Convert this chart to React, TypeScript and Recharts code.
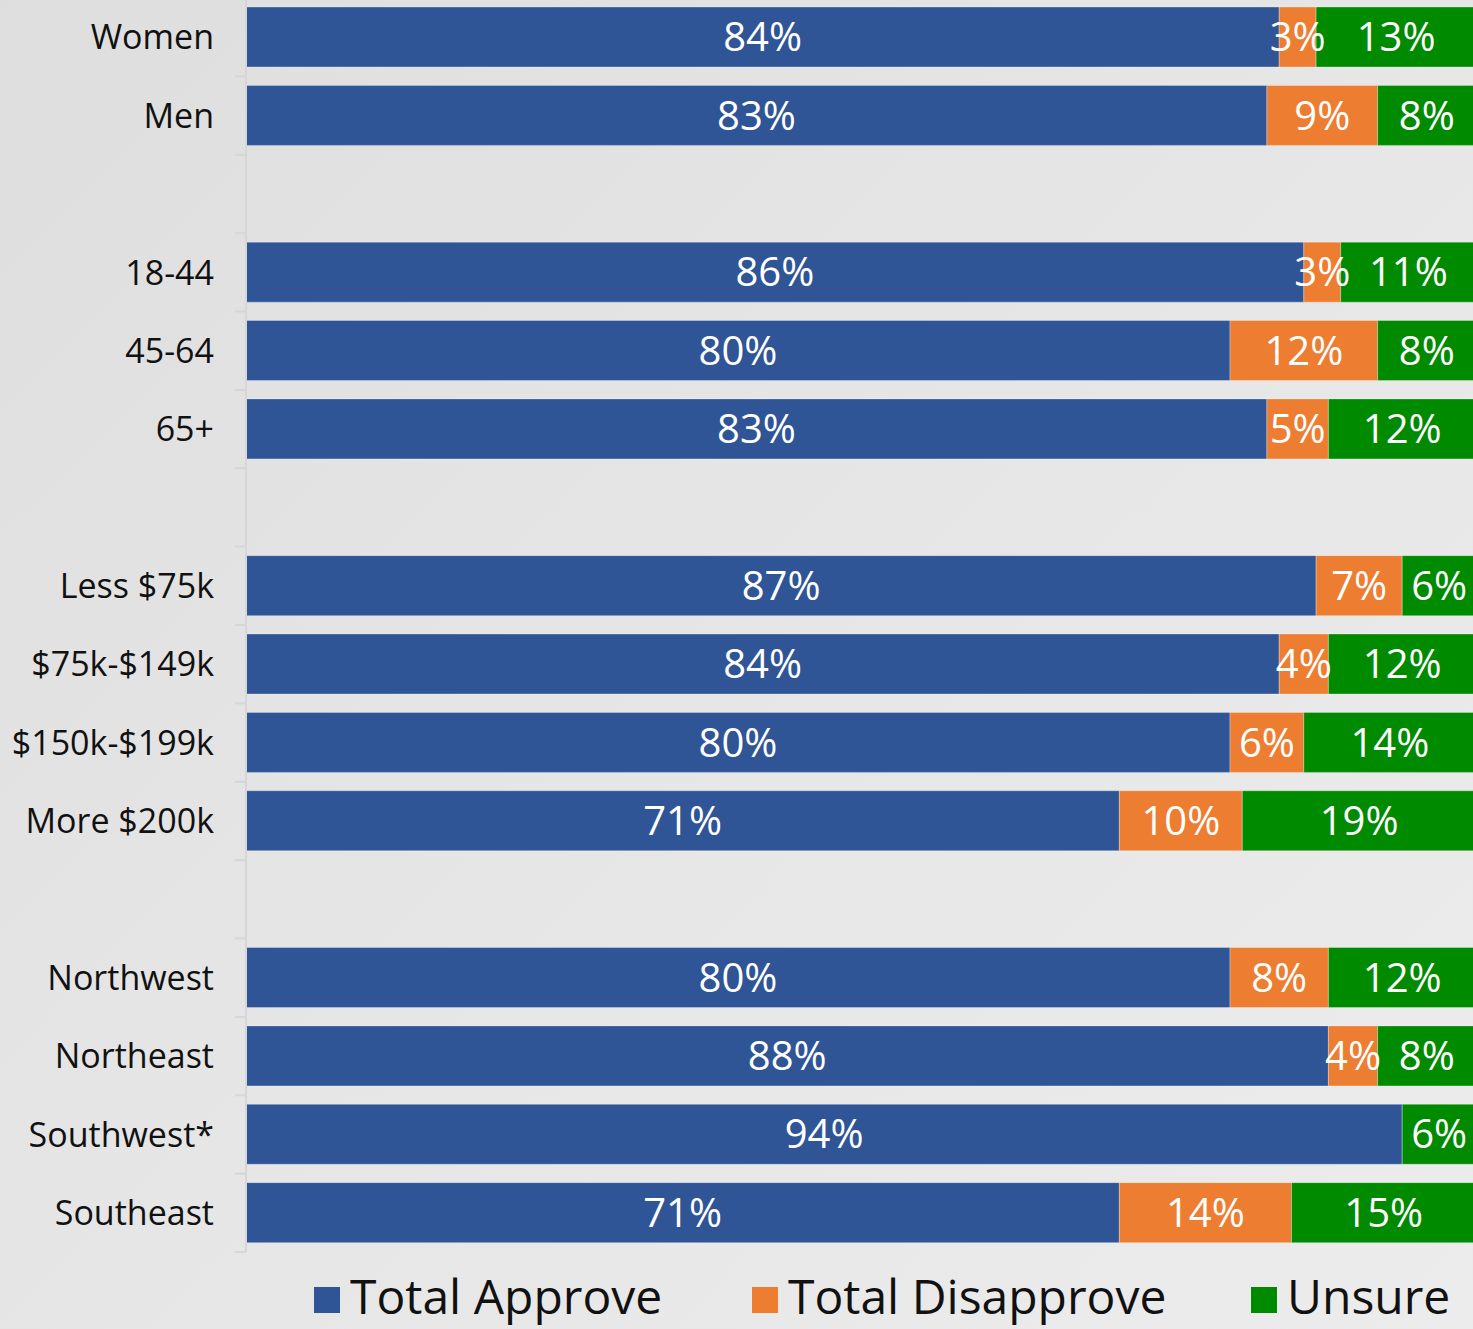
import React from 'react';
import { BarChart, Bar, XAxis, YAxis, Legend, LabelList } from 'recharts';

// rows, '' = spacer row between groups
const categories = [
  'Women', 'Men', '',
  '18-44', '45-64', '65+', '',
  'Less $75k', '$75k-$149k', '$150k-$199k', 'More $200k', '',
  'Northwest', 'Northeast', 'Southwest*', 'Southeast',
];
const approve = [84, 83, null, 86, 80, 83, null, 87, 84, 80, 71, null, 80, 88, 94, 71];
const disapprove = [3, 9, null, 3, 12, 5, null, 7, 4, 6, 10, null, 8, 4, 0, 14];
const unsure = [13, 8, null, 11, 8, 12, null, 6, 12, 14, 19, null, 12, 8, 6, 15];

const seriesNames = ['Total Approve', 'Total Disapprove', 'Unsure'];
const colors = ['#2f5597', '#ed7d31', '#008a00'];

const FONT = '"Open Sans", "DejaVu Sans", sans-serif';
const CHART_W = 1476;
const PLOT_H = 1254;
const LEGEND_H = 80;
const AXIS_X = 246;
const BAND = PLOT_H / categories.length;

const chartData = categories.map((c, i) => ({
  key: String(i),
  label: c,
  approve: approve[i],
  disapprove: disapprove[i],
  unsure: unsure[i],
}));

const CategoryTick = ({ y, index }: any) => (
  <g>
    <text
      x={AXIS_X - 32}
      y={y}
      dy="0.36em"
      textAnchor="end"
      fill="#111"
      fontSize={34}
      fontFamily={FONT}
    >
      {categories[index]}
    </text>
    <line x1={AXIS_X - 11} x2={AXIS_X} y1={y + BAND / 2} y2={y + BAND / 2} stroke="#d6d6d6" strokeWidth={2} />
  </g>
);

const legendLeft = [314, 752, 1251];

const LegendContent = () => (
  <div style={{ position: 'relative', width: CHART_W, height: LEGEND_H }}>
    {seriesNames.map((n, i) => (
      <div key={n} style={{ position: 'absolute', left: legendLeft[i], top: 20, display: 'flex', alignItems: 'flex-start' }}>
        <div style={{ width: 26, height: 26, background: colors[i], marginTop: 15, marginRight: 10 }} />
        <span style={{ fontFamily: FONT, fontSize: 48, lineHeight: '48px', color: '#111', whiteSpace: 'nowrap' }}>{n}</span>
      </div>
    ))}
  </div>
);

const fmt = (v: any) => (v ? `${v}%` : '');

export default function App() {
  const keys = ['approve', 'disapprove', 'unsure'];
  return (
    <div
      style={{
        position: 'absolute',
        top: 0,
        left: 0,
        width: 1473,
        height: 1329,
        overflow: 'hidden',
        background: 'linear-gradient(135deg, #dedede 0%, #e6e6e6 50%, #ececec 100%)',
      }}
    >
      <div style={{ marginTop: -2 }}>
        <BarChart
          width={CHART_W}
          height={PLOT_H + LEGEND_H}
          data={chartData}
          layout="vertical"
          margin={{ top: 0, right: 0, left: 0, bottom: 0 }}
          barSize={60}
        >
          <XAxis type="number" domain={[0, 100]} hide />
          <YAxis
            type="category"
            dataKey="key"
            width={AXIS_X}
            axisLine={{ stroke: '#d6d6d6', strokeWidth: 2 }}
            tickLine={false}
            interval={0}
            tick={<CategoryTick />}
          />
          <Legend
            verticalAlign="bottom"
            height={LEGEND_H}
            wrapperStyle={{ left: 0, width: CHART_W }}
            content={<LegendContent />}
          />
          {keys.map((k, i) => (
            <Bar
              key={k}
              dataKey={k}
              name={seriesNames[i]}
              stackId="s"
              fill={colors[i]}
              stroke="#ffffff"
              strokeOpacity={0.3}
              strokeWidth={1}
              isAnimationActive={false}
            >
              <LabelList
                dataKey={k}
                position="center"
                formatter={fmt}
                fill="#ffffff"
                fontSize={40}
                fontFamily={FONT}
              />
            </Bar>
          ))}
        </BarChart>
      </div>
    </div>
  );
}
